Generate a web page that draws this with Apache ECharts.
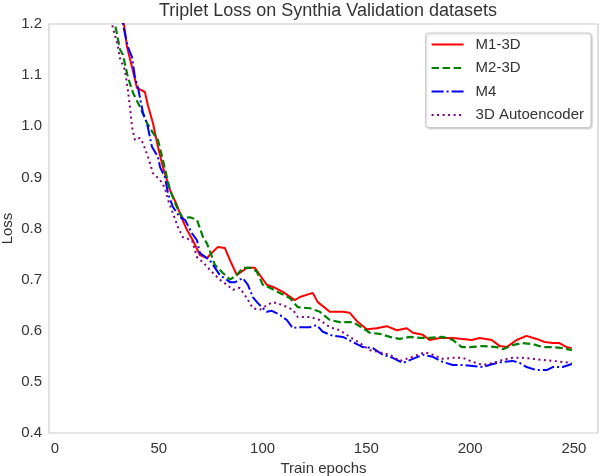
<!DOCTYPE html>
<html>
<head>
<meta charset="utf-8">
<script src="https://cdn.jsdelivr.net/npm/echarts@6/dist/echarts.min.js"></script>
<style>
  html, body { margin: 0; padding: 0; background: #fff; }
  #chart { width: 600px; height: 476px; }
</style>
</head>
<body>
<div id="chart"></div>
<script>
// values
const m1Epochs = [30, 33.2, 34.7, 37.1, 39.5, 43.3, 44.8, 47.2, 49.6, 52, 55.4, 58.7, 61.1, 63.6, 66.4, 69.8, 73.2, 75.5, 78.5, 81.8, 84.3, 87.6, 89, 92.4, 96.3, 98.7, 102, 106, 109.8, 115.5, 118, 124.2, 126.6, 132.4, 138.7, 142, 145.9, 150.2, 155, 159.8, 164.7, 169.5, 172.4, 177.2, 180.5, 185.4, 191.6, 196.4, 200.8, 204.6, 210.4, 214.3, 217.6, 222.4, 227.2, 232, 235.9, 239.8, 243, 246.5, 249];
const m1Loss = [1.28, 1.2, 1.155, 1.116, 1.075, 1.067, 1.04, 1.006, 0.96, 0.92, 0.875, 0.846, 0.82, 0.797, 0.777, 0.748, 0.742, 0.752, 0.764, 0.762, 0.738, 0.709, 0.713, 0.723, 0.723, 0.709, 0.69, 0.684, 0.676, 0.66, 0.666, 0.674, 0.656, 0.637, 0.637, 0.635, 0.617, 0.603, 0.605, 0.609, 0.601, 0.605, 0.596, 0.592, 0.582, 0.586, 0.586, 0.584, 0.582, 0.586, 0.582, 0.570, 0.568, 0.582, 0.590, 0.584, 0.578, 0.576, 0.576, 0.568, 0.566];

const m2Epochs = [26, 28.9, 31.3, 32.7, 35.1, 37.6, 40.9, 44.3, 47.2, 49.6, 52, 53.9, 55.4, 58.7, 61.6, 65, 68.4, 71.3, 73.2, 77, 80.9, 84.3, 87.6, 90.5, 94.8, 97.3, 100.1, 103.5, 108.3, 113.1, 117, 122.8, 127.6, 132.4, 137.2, 143.5, 148.3, 151.7, 156.5, 161.3, 166.1, 170.9, 175.7, 180.5, 186.8, 191.6, 196, 199.8, 206, 212.8, 215.7, 220.5, 225.3, 230.1, 235, 239.8, 244.6, 249];
const m2Loss = [1.28, 1.2, 1.15, 1.14, 1.096, 1.065, 1.038, 1.006, 0.987, 0.973, 0.934, 0.9, 0.875, 0.842, 0.82, 0.822, 0.817, 0.783, 0.771, 0.729, 0.713, 0.7, 0.709, 0.723, 0.723, 0.715, 0.69, 0.684, 0.674, 0.664, 0.646, 0.644, 0.637, 0.621, 0.617, 0.617, 0.605, 0.596, 0.594, 0.588, 0.584, 0.588, 0.586, 0.586, 0.588, 0.582, 0.568, 0.568, 0.570, 0.568, 0.564, 0.572, 0.576, 0.574, 0.568, 0.568, 0.566, 0.562];

const m4Epochs = [30, 32.7, 35.1, 37.1, 38.5, 40, 42.4, 44.3, 46.7, 49.6, 50.6, 53, 54.4, 56.8, 60.2, 62.6, 65.9, 68.4, 69.8, 74.6, 79.4, 84.3, 86.7, 90.5, 92.9, 95.3, 97.7, 102, 104.5, 108.3, 111.7, 114.6, 117, 122.8, 126.1, 129, 133.9, 138.7, 143.5, 148.3, 153.1, 157.9, 162.7, 167.5, 172.4, 177.2, 182, 186.8, 191.6, 196.4, 201.3, 206, 210.9, 215.7, 220.5, 223.9, 227.2, 232, 236.9, 239.8, 244.6, 249];
const m4Loss = [1.27, 1.2, 1.155, 1.135, 1.096, 1.075, 1.026, 1.006, 0.96, 0.94, 0.92, 0.9, 0.869, 0.842, 0.822, 0.817, 0.791, 0.777, 0.752, 0.738, 0.709, 0.695, 0.695, 0.703, 0.69, 0.666, 0.654, 0.637, 0.639, 0.631, 0.621, 0.605, 0.607, 0.607, 0.611, 0.598, 0.590, 0.588, 0.578, 0.568, 0.566, 0.553, 0.547, 0.537, 0.545, 0.553, 0.549, 0.539, 0.533, 0.533, 0.531, 0.529, 0.535, 0.539, 0.541, 0.537, 0.529, 0.523, 0.523, 0.529, 0.529, 0.535];

const aeEpochs = [25, 27.9, 29.9, 31.3, 33.7, 35.1, 36.1, 37.1, 38.5, 40.9, 42.4, 44.8, 47.2, 50.6, 53, 54.4, 56.8, 59.2, 61.6, 66, 68.4, 71.3, 74.6, 79.4, 82.8, 85.7, 89, 92.4, 95.3, 98.7, 102, 105, 109.8, 114.6, 117, 122.8, 127.6, 132.4, 137.2, 142, 146.8, 151.7, 156.5, 161.3, 166.1, 170.9, 174.8, 178.1, 182, 186.8, 191.6, 196.4, 201.3, 206, 210.9, 215.7, 220.5, 225.3, 230.1, 235, 239.8, 244.6, 249];
const aeLoss = [1.25, 1.192, 1.163, 1.133, 1.11, 1.071, 1.038, 0.999, 0.973, 0.977, 0.967, 0.94, 0.908, 0.895, 0.879, 0.856, 0.83, 0.803, 0.783, 0.777, 0.744, 0.734, 0.719, 0.7, 0.69, 0.68, 0.684, 0.664, 0.644, 0.641, 0.65, 0.656, 0.65, 0.641, 0.627, 0.627, 0.621, 0.607, 0.601, 0.588, 0.576, 0.562, 0.558, 0.553, 0.541, 0.547, 0.553, 0.558, 0.553, 0.545, 0.547, 0.547, 0.539, 0.533, 0.537, 0.543, 0.547, 0.547, 0.545, 0.543, 0.541, 0.539, 0.537];

const xTicks = [0, 50, 100, 150, 200, 250];

function pairs(xs, ys) {
  return xs.map((x, i) => [x, ys[i]]);
}

const chart = echarts.init(document.getElementById('chart'));
const font = 'Liberation Sans, Arial, sans-serif';

chart.setOption({
  animation: false,
  backgroundColor: '#fff',
  title: {
    text: 'Triplet Loss on Synthia Validation datasets',
    left: 323, top: -3, textAlign: 'center',
    textStyle: { fontFamily: font, fontSize: 18, fontWeight: 'normal', color: '#333' }
  },
  grid: {
    left: 49, right: 2, top: 24, bottom: 43,
    containLabel: false, outerBoundsMode: 'none',
    show: true, borderColor: '#cccccc', borderWidth: 1.2
  },
  legend: {
    orient: 'vertical',
    right: 9, top: 33,
    backgroundColor: '#fff',
    borderColor: '#cccccc', borderWidth: 1, borderRadius: 3,
    shadowColor: 'rgba(0,0,0,0.2)', shadowBlur: 2, shadowOffsetX: 1, shadowOffsetY: 1,
    padding: [4, 7, 5, 5],
    itemWidth: 32, itemHeight: 14, itemGap: 8.5,
    itemStyle: { opacity: 0 },
    textStyle: { fontFamily: font, fontSize: 15, color: '#333', padding: [0, 0, 0, 7] }
  },
  xAxis: {
    type: 'value', min: -2.9, max: 261.6,
    axisLine: { show: false }, axisTick: { show: false }, splitLine: { show: false },
    axisLabel: { customValues: xTicks, fontFamily: font, fontSize: 15, color: '#333', margin: 8 },
    name: 'Train epochs', nameLocation: 'middle', nameGap: 28, nameMoveOverlap: false,
    nameTextStyle: { fontFamily: font, fontSize: 15, color: '#333' }
  },
  yAxis: {
    type: 'value', min: 0.4, max: 1.2, interval: 0.1,
    axisLine: { show: false }, axisTick: { show: false }, splitLine: { show: false },
    axisLabel: { formatter: v => v.toFixed(1), fontFamily: font, fontSize: 15, color: '#333', margin: 7 },
    name: 'Loss', nameLocation: 'middle', nameGap: 41, nameMoveOverlap: false,
    nameTextStyle: { fontFamily: font, fontSize: 15, color: '#333', verticalAlign: 'middle' }
  },
  series: [
    { name: 'M1-3D', type: 'line', symbol: 'none', data: pairs(m1Epochs, m1Loss),
      lineStyle: { color: '#ff0000', width: 2, type: 'solid' }, itemStyle: { color: '#ff0000' } },
    { name: 'M2-3D', type: 'line', symbol: 'none', data: pairs(m2Epochs, m2Loss),
      lineStyle: { color: '#008000', width: 2.2, type: [7.5, 3.5] }, itemStyle: { color: '#008000' } },
    { name: 'M4', type: 'line', symbol: 'none', data: pairs(m4Epochs, m4Loss),
      lineStyle: { color: '#0000ff', width: 2, type: [12, 3, 2, 3] }, itemStyle: { color: '#0000ff' } },
    { name: '3D Autoencoder', type: 'line', symbol: 'none', data: pairs(aeEpochs, aeLoss),
      lineStyle: { color: '#800080', width: 2, type: [2, 3.5] }, itemStyle: { color: '#800080' } }
  ]
});
</script>
</body>
</html>
